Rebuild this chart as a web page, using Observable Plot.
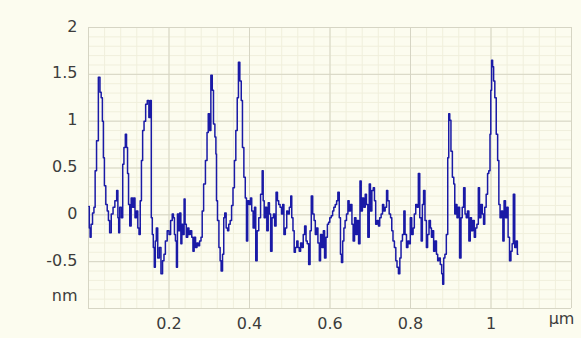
<!DOCTYPE html>
<html>
<head>
<meta charset="utf-8">
<script src="https://cdn.jsdelivr.net/npm/d3@7"></script>
<script src="https://cdn.jsdelivr.net/npm/@observablehq/plot@0.6"></script>
<style>
  html, body { margin: 0; padding: 0; background: #fcfcef; }
  #chart svg { display: block; }
</style>
</head>
<body>
<div id="chart"></div>
<script>
// Surface height profile: position along the scan (µm) and height (nm)
const positions = [
  0.001,0.003,0.005,0.008,0.012,0.015,0.018,0.022,0.027,0.030,0.033,0.036,0.038,0.041,0.045,0.048,
  0.051,0.054,0.059,0.063,0.068,0.072,0.074,0.076,0.079,0.084,0.086,0.090,0.093,0.096,0.098,0.101,
  0.104,0.108,0.111,0.114,0.117,0.121,0.124,0.127,0.130,0.133,0.136,0.140,0.144,0.148,0.152,0.155,
  0.157,0.160,0.162,0.165,0.167,0.170,0.174,0.178,0.182,0.186,0.189,0.193,0.198,0.202,0.206,0.210,
  0.212,0.215,0.217,0.220,0.222,0.225,0.228,0.231,0.233,0.236,0.239,0.241,0.245,0.248,0.251,0.255,
  0.258,0.261,0.264,0.268,0.271,0.274,0.278,0.281,0.284,0.288,0.293,0.296,0.299,0.302,0.306,0.309,
  0.312,0.316,0.317,0.319,0.322,0.326,0.328,0.331,0.335,0.337,0.340,0.344,0.347,0.350,0.354,0.357,
  0.361,0.364,0.368,0.371,0.374,0.378,0.381,0.384,0.388,0.391,0.394,0.397,0.401,0.404,0.407,0.411,
  0.414,0.417,0.421,0.425,
  0.430,0.433,0.435,0.438,0.441,0.445,0.448,0.451,0.454,0.458,0.461,0.464,0.468,0.471,0.474,0.478,
  0.481,0.484,0.487,0.491,0.494,0.497,0.501,0.504,0.506,0.510,0.512,0.516,0.519,0.522,0.525,0.529,
  0.532,0.535,0.539,0.542,0.545,0.549,0.552,0.555,0.559,0.562,0.565,0.568,0.572,0.575,0.578,0.582,
  0.585,0.588,0.592,0.595,0.598,0.601,0.605,0.608,0.611,0.615,0.618,0.621,0.625,0.627,0.630,0.633,
  0.636,0.639,
  0.643,0.646,0.649,0.653,0.656,0.659,0.663,0.666,0.669,0.673,0.676,0.679,0.682,0.686,0.689,0.692,
  0.696,0.699,0.702,0.706,0.709,0.712,0.715,0.719,0.722,0.725,0.729,0.732,0.735,0.739,0.742,0.745,
  0.749,0.752,0.755,0.758,0.762,0.765,0.768,0.772,0.775,0.778,0.782,0.785,0.788,0.792,0.795,0.798,
  0.801,0.805,0.808,0.811,0.815,0.818,0.821,0.825,0.828,0.831,0.834,0.838,0.841,0.844,0.848,0.851,
  0.853,0.856,0.859,0.863,0.866,0.869,0.872,0.876,0.879,0.881,0.884,0.887,0.891,0.894,0.896,0.899,
  0.902,0.906,0.909,0.911,0.914,0.917,0.920,0.924,0.927,0.930,0.934,0.937,0.940,0.943,0.947,0.950,
  0.953,0.957,0.960,0.963,0.967,0.970,0.973,0.977,0.980,0.983,0.986,0.990,0.993,0.996,0.999,1.000,
  1.003,1.005,1.008,1.011,1.015,1.018,1.021,1.024,1.028,1.031,1.034,1.038,1.041,1.044,1.048,1.051,
  1.054,1.057,1.061,1.064,1.067
];
const heights = [
  0.09,-0.14,-0.24,-0.10,0.02,0.08,0.47,0.79,1.47,1.31,1.25,1.00,0.61,0.31,0.11,0.04,
  -0.06,-0.19,0.01,0.08,0.15,0.26,-0.03,-0.19,0.08,-0.03,0.54,0.72,0.86,0.72,0.44,0.11,
  -0.12,0.18,0.08,0.18,-0.03,0.04,-0.14,-0.21,0.15,0.58,0.90,1.00,1.18,1.22,1.04,1.22,
  -0.03,-0.21,-0.35,-0.56,-0.28,-0.14,-0.46,-0.35,-0.63,-0.49,-0.42,-0.28,-0.17,-0.21,-0.06,0.01,
  -0.03,-0.21,-0.28,-0.56,0.01,-0.17,0.02,-0.31,-0.10,-0.21,0.17,-0.10,-0.24,-0.14,-0.21,-0.17,
  -0.24,-0.39,-0.24,-0.35,-0.30,-0.33,-0.28,-0.24,0.04,0.33,0.58,0.88,1.08,0.90,1.49,1.33,
  0.97,0.83,0.65,0.15,-0.06,-0.35,-0.49,-0.60,-0.42,-0.03,0.02,-0.14,-0.17,-0.10,-0.06,0.10,
  0.29,0.58,0.90,1.25,1.63,1.43,1.22,0.72,0.40,0.18,-0.28,0.15,0.11,0.18,0.04,-0.14,
  0.08,-0.49,-0.17,-0.03,
  0.22,0.47,0.15,-0.03,0.08,-0.17,0.13,0.01,-0.39,-0.03,0.01,-0.12,0.24,0.15,0.11,0.08,
  0.01,0.11,-0.21,-0.14,0.04,0.01,0.08,0.20,-0.03,-0.17,-0.40,-0.35,-0.28,-0.35,-0.39,-0.30,
  -0.35,-0.21,-0.12,-0.28,-0.31,-0.53,-0.17,0.20,0.01,-0.06,-0.21,-0.14,-0.30,-0.49,-0.21,-0.35,
  -0.17,-0.46,-0.24,-0.10,-0.08,-0.03,-0.01,0.04,0.08,0.11,0.15,0.24,-0.03,-0.42,-0.51,-0.28,
  -0.14,-0.06,
  0.01,0.15,0.04,0.11,-0.10,-0.28,-0.03,-0.21,-0.06,-0.31,0.36,0.04,0.18,0.08,0.22,0.11,
  -0.24,0.33,0.04,0.26,0.29,0.15,-0.10,-0.06,-0.12,-0.03,0.01,0.11,0.04,0.08,0.26,0.15,
  0.01,-0.03,-0.17,-0.28,-0.35,-0.49,-0.56,-0.63,-0.46,-0.28,-0.21,0.04,-0.21,-0.35,-0.28,-0.31,
  -0.03,-0.21,-0.14,0.01,0.11,0.08,0.44,-0.03,-0.28,0.11,0.26,-0.06,-0.35,-0.21,-0.06,-0.14,
  -0.24,-0.17,-0.39,-0.28,-0.42,-0.49,-0.46,-0.53,-0.63,-0.74,-0.46,-0.42,-0.21,0.61,1.08,1.01,
  0.68,0.40,0.33,0.01,0.11,-0.03,0.08,-0.46,-0.03,0.08,0.29,0.01,-0.03,0.04,-0.28,-0.03,
  -0.17,-0.06,-0.24,-0.14,-0.10,0.29,-0.03,0.11,0.01,-0.10,0.08,0.22,0.44,0.47,0.86,1.33,
  1.65,1.58,1.43,1.25,0.86,0.58,0.11,-0.03,0.04,-0.28,0.15,-0.03,0.08,-0.24,-0.49,-0.39,
  -0.31,0.22,-0.35,-0.28,-0.42
];

// Axis tick values and grid spacing
const xTicks = [0.2, 0.4, 0.6, 0.8, 1];
const yTicks = [-0.5, 0, 0.5, 1, 1.5, 2];
const xMajorGrid = [0, 0.2, 0.4, 0.6, 0.8, 1, 1.2];
const yMajorGrid = [-1, -0.5, 0, 0.5, 1, 1.5, 2];
const xMinorStep = 0.04;
const yMinorStep = 0.1;

const profile = positions.map((x, i) => ({x, z: heights[i]}));

const xMinorGrid = d3.range(0, 1.2 + 1e-9, xMinorStep);
const yMinorGrid = d3.range(-1, 2 + 1e-9, yMinorStep);

const font = "DejaVu Sans, Verdana, sans-serif";
const textColor = "#3c3c3c";

const chart = Plot.plot({
  width: 581,
  height: 338,
  marginLeft: 88,
  marginRight: 10,
  marginTop: 27,
  marginBottom: 30,
  style: {background: "#fcfcef", fontFamily: font},
  x: {domain: [0, 1.2]},
  y: {domain: [-1, 2]},
  marks: [
    Plot.ruleX(xMinorGrid, {stroke: "#f0efdc", strokeWidth: 1}),
    Plot.ruleY(yMinorGrid, {stroke: "#f0efdc", strokeWidth: 1}),
    Plot.ruleX(xMajorGrid, {stroke: "#d6d5c4", strokeWidth: 1}),
    Plot.ruleY(yMajorGrid, {stroke: "#d6d5c4", strokeWidth: 1}),
    Plot.line(profile, {x: "x", y: "z", curve: "step", stroke: "#1a1aa6", strokeWidth: 1.5}),
    Plot.axisX(xTicks, {tickSize: 0, tickPadding: 9, fontSize: 16, fill: textColor, tickFormat: d => String(d), label: null}),
    Plot.axisY(yTicks, {tickSize: 0, tickPadding: 11, dy: -1, fontSize: 16, fill: textColor, tickFormat: d => String(d), label: null}),
    Plot.text(["nm"], {frameAnchor: "bottom-left", textAnchor: "end", dx: -11, dy: -8, fontSize: 16, fill: textColor}),
    Plot.text(["µm"], {frameAnchor: "bottom-right", textAnchor: "middle", dx: -10, dy: 15, fontSize: 16, fill: textColor})
  ]
});

document.getElementById("chart").append(chart);
</script>
</body>
</html>
